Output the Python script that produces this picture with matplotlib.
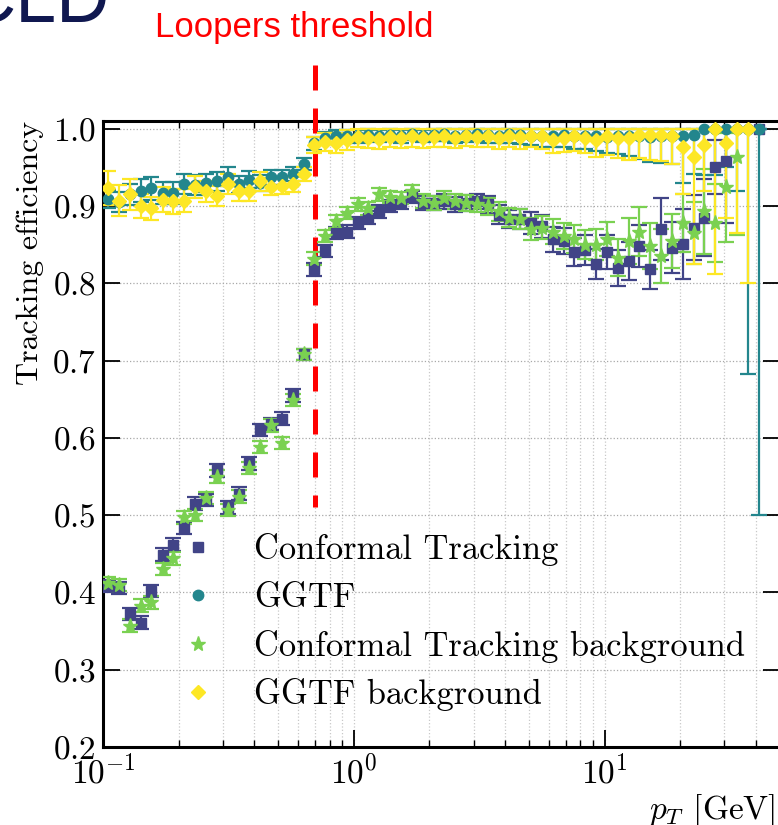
import numpy as np
import matplotlib
matplotlib.use("Agg")
import matplotlib.pyplot as plt
from matplotlib.lines import Line2D

plt.rcParams.update({
    "font.family": "serif",
    "font.serif": ["cmr10"],
    "mathtext.fontset": "cm",
    "axes.formatter.use_mathtext": True,
    "axes.unicode_minus": False,
})

nan = np.nan

# pT bin centres [GeV]
pt = [0.105, 0.116, 0.128, 0.142, 0.156, 0.173, 0.191, 0.211, 0.233, 0.257,
      0.284, 0.314, 0.347, 0.383, 0.423, 0.467, 0.516, 0.570, 0.630, 0.696,
      0.769, 0.849, 0.938, 1.036, 1.144, 1.264, 1.396, 1.542, 1.703, 1.881,
      2.078, 2.295, 2.535, 2.800, 3.093, 3.417, 3.774, 4.169, 4.605, 5.087,
      5.618, 6.206, 6.855, 7.572, 8.364, 9.239, 10.20, 11.27, 12.45, 13.75,
      15.19, 16.78, 18.54, 20.47, 22.62, 24.98, 27.60, 30.48, 33.67, 37.19, 41.08]

# Conformal Tracking
ct_eff = [0.408, 0.406, 0.372, 0.361, 0.402, 0.449, 0.462, 0.483, 0.515, 0.520,
          0.558, 0.510, 0.528, 0.567, 0.610, 0.618, 0.625, 0.655, 0.708, 0.818,
          0.842, 0.865, 0.867, 0.878, 0.885, 0.893, 0.900, 0.904, 0.912, 0.904,
          0.904, 0.906, 0.902, 0.904, 0.906, 0.902, 0.889, 0.883, 0.883, 0.878,
          0.874, 0.857, 0.855, 0.840, 0.843, 0.825, 0.840, 0.820, 0.829, 0.848,
          0.818, 0.870, 0.846, 0.851, 0.872, 0.885, 0.951, 0.958, nan, nan, 1.0]
ct_err = [0.008, 0.008, 0.008, 0.008, 0.008, 0.008, 0.008, 0.008, 0.008, 0.008,
          0.008, 0.008, 0.008, 0.008, 0.008, 0.008, 0.008, 0.008, 0.007, 0.008,
          0.008, 0.008, 0.008, 0.008, 0.008, 0.008, 0.008, 0.008, 0.008, 0.009,
          0.009, 0.010, 0.010, 0.010, 0.010, 0.011, 0.012, 0.012, 0.013, 0.014,
          0.015, 0.016, 0.017, 0.018, 0.019, 0.020, 0.022, 0.023, 0.025, 0.027,
          0.025, 0.040, 0.033, 0.045, 0.042, 0.050, 0.035, 0.080, nan, nan, 0.0]

# GGTF
ggtf_eff = [0.909, 0.905, 0.915, 0.920, 0.923, 0.917, 0.917, 0.928, 0.927, 0.930,
            0.932, 0.938, 0.928, 0.934, 0.930, 0.937, 0.937, 0.942, 0.954, 0.981,
            0.988, 0.990, 0.991, 0.990, 0.992, 0.991, 0.992, 0.990, 0.993, 0.991,
            0.992, 0.993, 0.991, 0.992, 0.993, 0.992, 0.991, 0.993, 0.992, 0.991,
            0.990, 0.991, 0.992, 0.990, 0.991, 0.990, 0.989, 0.990, 0.991, 0.990,
            0.989, 0.990, 0.991, 0.990, 0.992, 1.0, 1.0, 1.0, 1.0, 1.0, 1.0]
ggtf_err = [0.012, 0.013, 0.014, 0.015, 0.015, 0.014, 0.014, 0.013, 0.013, 0.012,
            0.012, 0.012, 0.011, 0.011, 0.010, 0.010, 0.010, 0.009, 0.008, 0.008,
            0.008, 0.008, 0.008, 0.008, 0.008, 0.008, 0.008, 0.008, 0.008, 0.008,
            0.008, 0.009, 0.009, 0.009, 0.009, 0.010, 0.010, 0.011, 0.012, 0.012,
            0.013, 0.014, 0.015, 0.016, 0.017, 0.019, 0.021, 0.023, 0.026, 0.029,
            0.032, 0.034, 0.036, 0.060, 0.050, 0.060, 0.060, 0.050, 0.080, 0.317, 0.500]

# Conformal Tracking background
bgct_eff = [0.412, 0.410, 0.357, 0.383, 0.387, 0.430, 0.444, 0.497, 0.500, 0.522,
            0.550, 0.507, 0.524, 0.561, 0.588, 0.616, 0.593, 0.649, 0.708, 0.832,
            0.861, 0.880, 0.891, 0.902, 0.897, 0.915, 0.912, 0.910, 0.919, 0.906,
            0.904, 0.910, 0.906, 0.904, 0.902, 0.900, 0.893, 0.885, 0.883, 0.870,
            0.872, 0.867, 0.861, 0.857, 0.850, 0.850, 0.857, 0.833, 0.855, 0.867,
            0.848, 0.835, 0.855, 0.878, 0.865, 0.893, 0.878, 0.924, 0.963, nan, nan]
bgct_err = [0.008, 0.008, 0.008, 0.008, 0.008, 0.008, 0.008, 0.008, 0.008, 0.008,
            0.008, 0.008, 0.008, 0.008, 0.008, 0.008, 0.008, 0.008, 0.007, 0.008,
            0.008, 0.008, 0.008, 0.008, 0.008, 0.008, 0.008, 0.008, 0.008, 0.009,
            0.009, 0.010, 0.010, 0.010, 0.010, 0.011, 0.012, 0.012, 0.013, 0.014,
            0.015, 0.016, 0.017, 0.018, 0.019, 0.020, 0.022, 0.024, 0.030, 0.032,
            0.030, 0.035, 0.035, 0.037, 0.040, 0.055, 0.050, 0.070, 0.100, nan, nan]

# GGTF background
bgggtf_eff = [0.923, 0.907, 0.915, 0.900, 0.897, 0.908, 0.906, 0.907, 0.925, 0.919,
              0.913, 0.928, 0.919, 0.919, 0.932, 0.925, 0.926, 0.928, 0.942, 0.979,
              0.983, 0.981, 0.985, 0.989, 0.988, 0.987, 0.989, 0.988, 0.990, 0.988,
              0.989, 0.990, 0.988, 0.991, 0.989, 0.990, 0.988, 0.990, 0.989, 0.991,
              0.990, 0.986, 0.988, 0.990, 0.988, 0.986, 0.990, 0.988, 0.988, 0.992,
              0.992, 0.992, 0.990, 0.977, 0.964, 0.979, 1.0, 0.981, 1.0, 1.0, nan]
bgggtf_err = [0.022, 0.020, 0.020, 0.016, 0.015, 0.016, 0.016, 0.015, 0.014, 0.014,
              0.013, 0.013, 0.012, 0.012, 0.012, 0.011, 0.011, 0.010, 0.009, 0.010,
              0.012, 0.013, 0.013, 0.013, 0.013, 0.013, 0.013, 0.013, 0.013, 0.013,
              0.013, 0.013, 0.013, 0.013, 0.013, 0.014, 0.014, 0.014, 0.015, 0.015,
              0.016, 0.017, 0.018, 0.019, 0.020, 0.022, 0.024, 0.026, 0.028, 0.030,
              0.032, 0.034, 0.036, 0.061, 0.139, 0.059, 0.188, 0.097, 0.135, 0.200, nan]

labels = ["Conformal Tracking", "GGTF", "Conformal Tracking background", "GGTF background"]
colors = ["#414487", "#23868d", "#7ad151", "#fde725"]
markers = ["s", "o", "*", "D"]
msizes = [7.5, 7.5, 11, 7.5]

threshold_pt = 0.7
threshold_span = (1.082, 0.511)

fig = plt.figure(figsize=(7.78, 8.25), dpi=100)
ax = fig.add_axes([103 / 778, 78 / 825, 677 / 778, 626 / 825])

series = [(ct_eff, ct_err), (ggtf_eff, ggtf_err), (bgct_eff, bgct_err), (bgggtf_eff, bgggtf_err)]
for (eff, err), lab, c, m, ms in zip(series, labels, colors, markers, msizes):
    eff = np.array(eff)
    err = np.array(err)
    lo = err
    up = np.minimum(err, 1.0 - eff)
    ax.errorbar(pt, eff, yerr=[lo, up], fmt=m, color=c, ms=ms, mec=c,
                elinewidth=1.6, capsize=5.5, capthick=1.6, zorder=3)

ax.set_xscale("log")
ax.set_xlim(0.1, 50)
ax.set_ylim(0.2, 1.01)
ax.set_yticks([0.2, 0.3, 0.4, 0.5, 0.6, 0.7, 0.8, 0.9, 1.0])

ax.grid(True, which="both", axis="x", ls=":", color="#c8c8c8", lw=0.9)
ax.grid(True, which="major", axis="y", ls=":", color="#a8a8a8", lw=0.9)
ax.set_axisbelow(True)

for s in ax.spines.values():
    s.set_linewidth(2.2)
ax.tick_params(which="major", direction="in", top=True, right=True, length=12.5,
               width=1.3, labelsize=24, pad=5)
ax.tick_params(which="minor", direction="in", top=True, right=True, length=5,
               width=1.0)
ax.tick_params(axis="y", which="minor", left=False, right=False)

ax.set_ylabel("Tracking efficiency", fontsize=23, labelpad=6, loc="top")
ax.set_xlabel(r"$p_T$ [GeV]", fontsize=24, loc="right", labelpad=2)
ax.xaxis.label.set_x(0.993)

handles = [Line2D([], [], ls="none", marker=m, color=c, ms=ms) for c, m, ms in zip(colors, markers, msizes)]
ax.legend(handles, labels, loc="upper left", bbox_to_anchor=(0.043, 0.391),
          frameon=False, fontsize=24.8, handlelength=2.0, handletextpad=0.63,
          labelspacing=0.46, borderpad=0.4)

ax.plot([threshold_pt, threshold_pt], list(threshold_span), color="#ff0000", lw=3.6,
        ls=(0, (5.0, 3.6)), clip_on=False, zorder=2.7)

fig.text(109 / 778, 1 - 22 / 825, "CLD", fontsize=53, family="Liberation Sans",
         color="#101850", ha="right", va="baseline")
fig.text(155 / 778, 1 - 37 / 825, "Loopers threshold", fontsize=25,
         family="Liberation Sans", color="#ff0000", ha="left", va="baseline")

fig.savefig("out.png", dpi=100)
